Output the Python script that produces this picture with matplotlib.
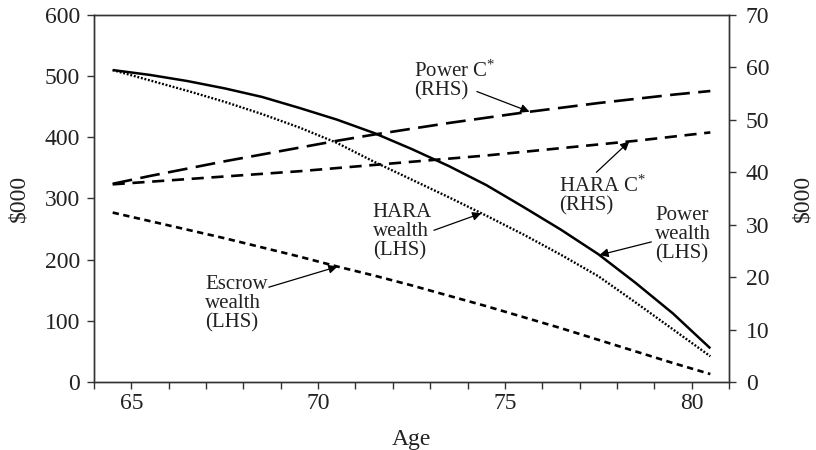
import matplotlib
matplotlib.use('Agg')
import matplotlib.pyplot as plt
import numpy as np

plt.rcParams['font.family'] = ['Liberation Serif', 'DejaVu Serif']
plt.rcParams['mathtext.fontset'] = 'custom'
plt.rcParams['mathtext.rm'] = 'Liberation Serif'
plt.rcParams['mathtext.it'] = 'Liberation Serif'

# ages (data runs half a year off the integer ticks)
ages = [64.5, 65.5, 66.5, 67.5, 68.5, 69.5, 70.5, 71.5, 72.5, 73.5,
        74.5, 75.5, 76.5, 77.5, 78.5, 79.5, 80.5]

# left-hand side, $000
power_wealth = [510, 502, 492, 480, 466, 448, 429, 407, 381, 353,
                322, 286, 249, 209, 162, 112, 55]
hara_wealth = [510, 493, 476, 458, 438, 416, 391, 360, 331, 302,
               272, 241, 208, 173, 130, 86, 42]
escrow_wealth = [277, 263, 249, 235, 220, 205, 189, 174, 158, 141,
                 124, 106, 88, 69, 50, 31, 13]

# right-hand side, $000
power_c = [37.8, 39.3, 40.7, 42.1, 43.4, 44.7, 46.0, 47.2, 48.3, 49.4,
           50.4, 51.4, 52.3, 53.2, 54.0, 54.8, 55.5]
hara_c = [37.7, 38.2, 38.7, 39.2, 39.7, 40.2, 40.8, 41.4, 42.0, 42.6,
          43.2, 43.9, 44.6, 45.3, 46.0, 46.8, 47.6]

x_labels = [65, 70, 75, 80]
left_ticks = [0, 100, 200, 300, 400, 500, 600]
right_ticks = [0, 10, 20, 30, 40, 50, 60, 70]

FS = 17
AFS = 15

fig = plt.figure(figsize=(8.16, 4.5), dpi=100)
ax = fig.add_axes([0.1152, 0.1511, 0.7782, 0.8156])
ax2 = ax.twinx()

ax.plot(ages, power_wealth, color='k', lw=1.8, solid_capstyle='butt')
ax.plot(ages, hara_wealth, color='k', lw=1.7, linestyle=(0, (0.8, 0.75)))
ax.plot(ages, escrow_wealth, color='k', lw=1.9, linestyle=(0, (2.4, 1.7)))
ax2.plot(ages, power_c, color='k', lw=1.9, linestyle=(0, (7.5, 3.2)))
ax2.plot(ages, hara_c, color='k', lw=1.9, linestyle=(0, (4.6, 2.9)))

ax.set_xlim(64, 81)
ax.set_ylim(0, 600)
ax2.set_ylim(0, 70)
ax.set_xticks(np.arange(64, 82, 1))
ax.set_xticklabels([str(a) if a in x_labels else '' for a in range(64, 82)])
ax.set_yticks(left_ticks)
ax2.set_yticks(right_ticks)

for a in (ax, ax2):
    a.tick_params(direction='out', length=5, width=1, labelsize=FS,
                  color='#333333', labelcolor='#222222')
    for s in a.spines.values():
        s.set_linewidth(1.0)
        s.set_color('#333333')
ax.tick_params(axis='y', pad=5)
ax2.tick_params(axis='y', pad=7)
ax.tick_params(axis='x', pad=3)

ax.set_xlabel('Age', fontsize=FS, labelpad=11, color='#222222')
ax.set_ylabel('$000', fontsize=FS, color='#222222')
ax2.set_ylabel('$000', fontsize=FS, color='#222222')
ax.yaxis.set_label_coords(-0.102, 0.5)
ax2.yaxis.set_label_coords(1.100, 0.5)

arrow = dict(arrowstyle='-|>', color='k', lw=0.9, mutation_scale=13, shrinkA=0, shrinkB=0)
txt = dict(fontsize=AFS, ha='left', va='top', linespacing=1.0, color='#222222')

# Power C* (RHS)
ax.text(72.58, 526, 'Power C$^{*}$\n(RHS)', **txt)
t = 75.66
ax2.annotate('', xy=(t, np.interp(t, ages, power_c)), xytext=(74.25, 55.4),
             arrowprops=arrow)

# HARA C* (RHS)
ax.text(76.46, 338, 'HARA C$^{*}$\n(RHS)', **txt)
t = 78.33
ax2.annotate('', xy=(t, np.interp(t, ages, hara_c)), xytext=(77.45, 40.0),
             arrowprops=arrow)

# Power wealth (LHS)
ax.text(79.03, 288, 'Power\nwealth\n(LHS)', **txt)
t = 77.53
ax.annotate('', xy=(t, np.interp(t, ages, power_wealth)), xytext=(78.92, 229),
            arrowprops=arrow)

# HARA wealth (LHS)
ax.text(71.46, 293, 'HARA\nwealth\n(LHS)', **txt)
t = 74.37
ax.annotate('', xy=(t, np.interp(t, ages, hara_wealth)), xytext=(73.1, 248),
            arrowprops=arrow)

# Escrow wealth (LHS)
ax.text(66.97, 175, 'Escrow\nwealth\n(LHS)', **txt)
t = 70.52
ax.annotate('', xy=(t, np.interp(t, ages, escrow_wealth)), xytext=(68.68, 155),
            arrowprops=arrow)

fig.savefig('out.png', dpi=100)
